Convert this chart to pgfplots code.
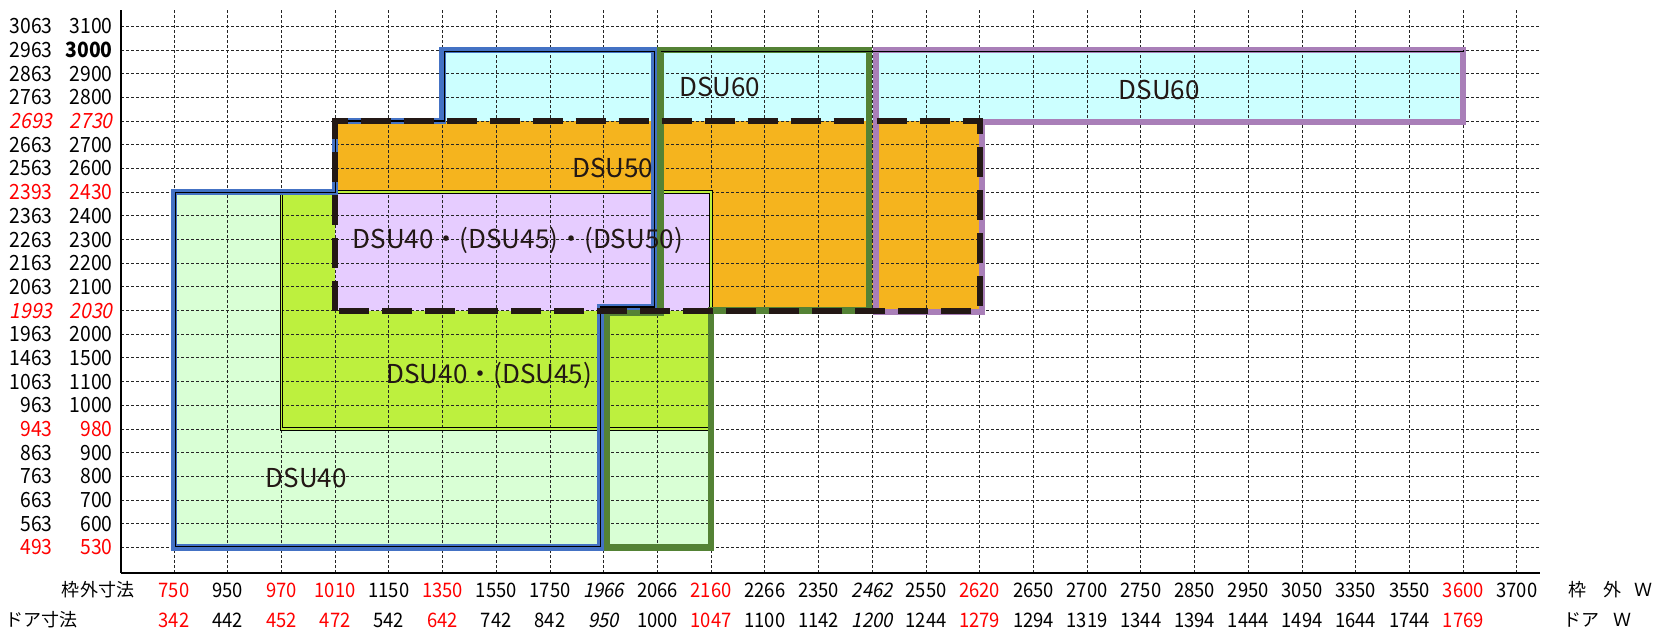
\documentclass[border=0pt]{standalone}
\usepackage{fontspec}
\usepackage{xcolor}
\usepackage{pgfplots}
\pgfplotsset{compat=1.18}
\newfontfamily\jp{Noto Sans CJK JP}
\newfontfamily\numfont[FakeStretch=0.92, AutoFakeSlant=0.2]{Noto Sans CJK JP}
\definecolor{lgreen}{HTML}{D9FFD5}
\definecolor{lime}{HTML}{BDF03E}
\definecolor{lav}{HTML}{E6CCFF}
\definecolor{orng}{HTML}{F5B41E}
\definecolor{cyn}{HTML}{CCFFFF}
\definecolor{bl}{HTML}{4472C4}
\definecolor{gr}{HTML}{548235}
\definecolor{pu}{HTML}{A97FB8}
\definecolor{dk}{HTML}{231815}
\newcommand{\R}[1]{\textcolor{red}{#1}}
\newcommand{\RI}[1]{\textcolor{red}{\itshape #1}}
\newcommand{\yl}[2]{\makebox[30pt][r]{#1}\makebox[30pt][r]{#2}}
\begin{document}
\begin{tikzpicture}
\begin{axis}[
  set layers,
  scale only axis,
  width=709.5pt, height=281.5pt,
  xmin=-0.987, xmax=25.43, ymin=-1.08, ymax=22.69,
  axis x line*=bottom, axis y line*=left,
  axis line style={line width=1pt, black},
  major tick length=0pt,
  xtick={0,...,25}, ytick={0,...,22},
  grid=major,
  major grid style={black!85, line width=0.5pt, dash pattern=on 1.5pt off 1pt},
  /pgf/number format/assume math mode=true,
  xticklabel style={font=\numfont\fontsize{10}{15}\selectfont, align=center, inner sep=0pt, anchor=north, yshift=-4.6pt},
  yticklabel style={font=\numfont\fontsize{10.5}{12}\selectfont, inner sep=0pt, anchor=east, xshift=-4pt},
  xticklabels={
    {\R{750}\\\R{342}},
    {950\\442},
    {\R{970}\\\R{452}},
    {\R{1010}\\\R{472}},
    {1150\\542},
    {\R{1350}\\\R{642}},
    {1550\\742},
    {1750\\842},
    {{\itshape 1966}\\{\itshape 950}},
    {2066\\1000},
    {\R{2160}\\\R{1047}},
    {2266\\1100},
    {2350\\1142},
    {{\itshape 2462}\\{\itshape 1200}},
    {2550\\1244},
    {\R{2620}\\\R{1279}},
    {2650\\1294},
    {2700\\1319},
    {2750\\1344},
    {2850\\1394},
    {2950\\1444},
    {3050\\1494},
    {3350\\1644},
    {3550\\1744},
    {\R{3600}\\\R{1769}},
    {3700}},
  yticklabels={
    {\yl{\R{493}}{\R{530}}},
    {\yl{563}{600}},
    {\yl{663}{700}},
    {\yl{763}{800}},
    {\yl{863}{900}},
    {\yl{\R{943}}{\R{980}}},
    {\yl{963}{1000}},
    {\yl{1063}{1100}},
    {\yl{1463}{1500}},
    {\yl{1963}{2000}},
    {\yl{\RI{1993}}{\RI{2030}}},
    {\yl{2063}{2100}},
    {\yl{2163}{2200}},
    {\yl{2263}{2300}},
    {\yl{2363}{2400}},
    {\yl{\R{2393}}{\R{2430}}},
    {\yl{2563}{2600}},
    {\yl{2663}{2700}},
    {\yl{\RI{2693}}{\RI{2730}}},
    {\yl{2763}{2800}},
    {\yl{2863}{2900}},
    {\yl{2963}{\bfseries 3000}},
    {\yl{3063}{3100}}},
]
% fills
\addplot[fill=lgreen, draw=none, on layer=axis background] coordinates {(0,0) (10,0) (10,15) (0,15)} -- cycle;
\addplot[fill=lime, draw=none, on layer=axis background] coordinates {(2,5) (10,5) (10,15) (2,15)} -- cycle;
\addplot[fill=orng, draw=none, on layer=axis background] coordinates {(3,10) (15,10) (15,18) (3,18)} -- cycle;
\addplot[fill=lav, draw=none, on layer=axis background] coordinates {(3,10) (10,10) (10,15) (3,15)} -- cycle;
\addplot[fill=cyn, draw=none, on layer=axis background] coordinates {(5,18) (24,18) (24,21) (5,21)} -- cycle;
% double black border of the DSU40/(DSU45) box
\addplot[draw=black, line width=0.45pt, double=lime, double distance=0.9pt] coordinates {(2,5) (10,5) (10,15) (2,15)} -- cycle;
% coloured outlines
\addplot[draw=bl, line width=3.3pt, line join=miter] coordinates {(0,0) (0,15) (3,15) (3,18) (5,18) (5,21) (8.94,21) (8.94,10.15) (7.94,10.15) (7.94,0)} -- cycle;
\addplot[draw=gr, line width=3.3pt, line join=miter] coordinates {(8.06,0) (10,0) (10,10) (12.94,10) (12.94,21) (9.06,21) (9.06,9.9) (8.06,9.9)} -- cycle;
\addplot[draw=pu, line width=3pt, line join=miter] coordinates {(13.06,9.95) (15.05,9.95) (15.05,17.95) (24,17.95) (24,21) (13.06,21)} -- cycle;
\addplot[draw=black, line width=0.6pt, line join=miter] coordinates {(0.03,0.05) (0.03,15) (3,15) (3,18) (5.03,18) (5.03,20.95) (8.94,20.95) (8.94,10.15) (7.94,10.15) (7.94,0.05)} -- cycle;
\addplot[draw=black, line width=0.6pt, line join=miter] coordinates {(9.06,20.95) (13,20.95) (24,20.95) (24,21)};
% dashed DSU50 frame
\addplot[draw=dk, line width=3pt, dash pattern=on 15pt off 6.5pt] coordinates {(3,10) (3,18) (15,18) (15,10)} -- cycle;
% labels
\node[font=\jp\fontsize{13}{15}\selectfont, text=dk] at (axis cs:10.16,19.42) {DSU60};
\node[font=\jp\fontsize{13}{15}\selectfont, text=dk] at (axis cs:18.34,19.3) {DSU60};
\node[font=\jp\fontsize{13}{15}\selectfont, text=dk] at (axis cs:8.17,16.03) {DSU50};
\node[font=\jp\fontsize{13}{15}\selectfont, text=dk] at (axis cs:6.40,12.96) {DSU40・(DSU45)・(DSU50)};
\node[font=\jp\fontsize{13}{15}\selectfont, text=dk] at (axis cs:5.87,7.27) {DSU40・(DSU45)};
\node[font=\jp\fontsize{13}{15}\selectfont, text=dk] at (axis cs:2.46,2.94) {DSU40};
\end{axis}
\begin{scope}[every node/.style={font=\jp\fontsize{9}{10}\selectfont, inner sep=0pt}]
\node at (-11.5pt,-8.5pt) {枠外寸法};
\node at (-39.5pt,-23.5pt) {ドア寸法};
\node at (728pt,-8.5pt) {枠};
\node at (745.5pt,-8.5pt) {外};
\node at (761pt,-8.5pt) {Ｗ};
\node at (730pt,-23.5pt) {ドア};
\node at (750.5pt,-23.5pt) {Ｗ};
\end{scope}
\pgfresetboundingbox
\useasboundingbox (-60.5pt,-28pt) rectangle (768pt,286.5pt);
\end{tikzpicture}
\end{document}
